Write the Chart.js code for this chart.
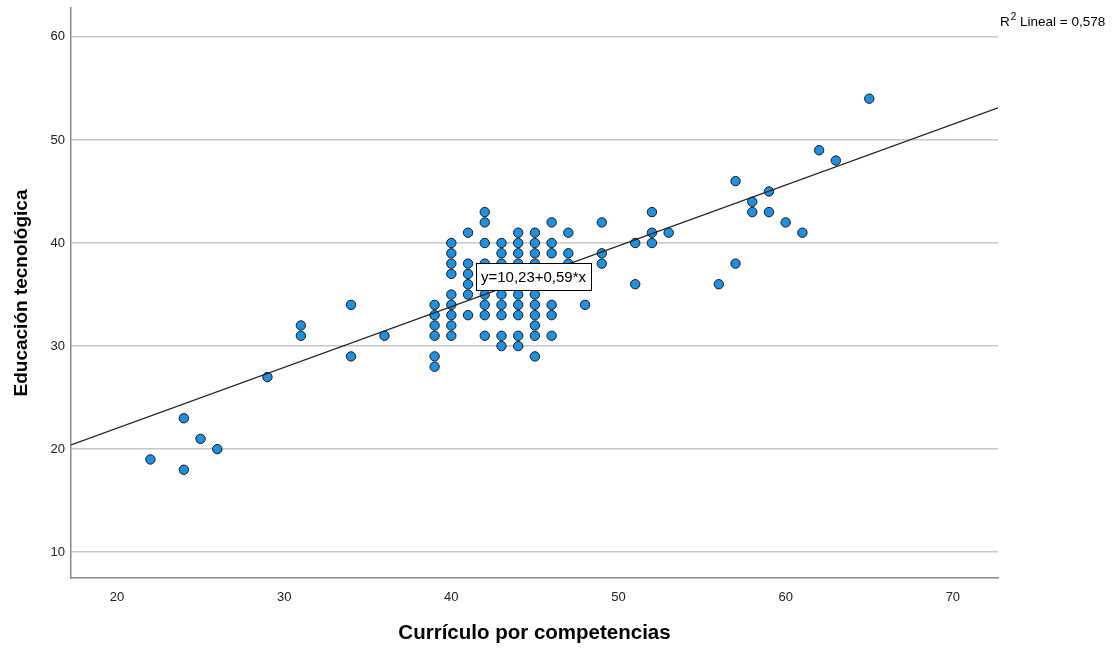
<!DOCTYPE html>
<html>
<head>
<meta charset="utf-8">
<script src="https://cdn.jsdelivr.net/npm/chart.js@4/dist/chart.umd.min.js"></script>
<style>
html, body { margin: 0; padding: 0; background: #fff; }
#wrap { width: 1119px; height: 653px; }
</style>
</head>
<body>
<div id="wrap"><canvas id="chart1"></canvas></div>
<script>
// Currículo por competencias (x) / Educación tecnológica (y), one pair per point
var curriculo = [
	22, 24, 24, 25, 26, 29, 31, 31, 34, 34, 36,
	39, 39, 39, 39, 39, 39,
	40, 40, 40, 40, 40, 40, 40, 40, 40,
	41, 41, 41, 41, 41, 41,
	42, 42, 42, 42, 42, 42, 42, 42, 42, 42,
	43, 43, 43, 43, 43, 43, 43, 43, 43, 43,
	44, 44, 44, 44, 44, 44, 44, 44, 44, 44, 44,
	45, 45, 45, 45, 45, 45, 45, 45, 45, 45, 45, 45,
	46, 46, 46, 46, 46, 46,
	47, 47, 47, 48, 49, 49, 49,
	51, 51, 52, 52, 52, 53, 56, 57, 57, 58, 58, 59, 59, 60, 61, 62, 63, 65
];
var educacion = [
	19, 18, 23, 21, 20, 27, 32, 31, 34, 29, 31,
	34, 33, 32, 31, 29, 28,
	40, 39, 38, 37, 35, 34, 33, 32, 31,
	41, 38, 37, 36, 35, 33,
	43, 42, 40, 38, 37, 36, 35, 34, 33, 31,
	40, 39, 38, 37, 36, 35, 34, 33, 31, 30,
	41, 40, 39, 38, 37, 36, 35, 34, 33, 31, 30,
	41, 40, 39, 38, 37, 36, 35, 34, 33, 32, 31, 29,
	42, 40, 39, 34, 33, 31,
	41, 39, 38, 34, 42, 39, 38,
	40, 36, 43, 41, 40, 41, 36, 46, 38, 44, 43, 45, 43, 42, 41, 49, 48, 54
];

// fit line ends
var fitX = [17.25, 72.7];
var fitY = [20.41, 53.12];

var xTicks = [20, 30, 40, 50, 60, 70];
var yTicks = [10, 20, 30, 40, 50, 60];

var fitLabel = 'y=10,23+0,59*x';
var fitLabelAt = {x: 44.94, y: 36.77};
var r2Text = ' Lineal = 0,578';

var fontFam = '"Liberation Sans", Arial, sans-serif';

var points = [];
for (var i = 0; i < curriculo.length; i++) {
	points.push({x: curriculo[i], y: educacion[i]});
}
var fitLine = [];
for (var j = 0; j < fitX.length; j++) {
	fitLine.push({x: fitX[j], y: fitY[j]});
}

var notes = {
	id: 'notes',
	afterDatasetsDraw: function(chart) {
		var ctx = chart.ctx;
		var xs = chart.scales.x, ys = chart.scales.y;
		ctx.save();

		// equation box
		ctx.font = '15px ' + fontFam;
		var w = Math.round(ctx.measureText(fitLabel).width + 10);
		var h = 27;
		var cx = xs.getPixelForValue(fitLabelAt.x);
		var cy = ys.getPixelForValue(fitLabelAt.y);
		var bx = Math.round(cx - w / 2), by = Math.round(cy - h / 2);
		ctx.fillStyle = '#ffffff';
		ctx.fillRect(bx, by, w, h);
		ctx.strokeStyle = '#000000';
		ctx.lineWidth = 1;
		ctx.strokeRect(bx + 0.5, by + 0.5, w, h);
		ctx.fillStyle = '#000000';
		ctx.textAlign = 'center';
		ctx.textBaseline = 'middle';
		ctx.fillText(fitLabel, bx + w / 2, by + h / 2 + 1);

		// R2 label, top right
		ctx.textAlign = 'left';
		ctx.textBaseline = 'alphabetic';
		ctx.font = '13.5px ' + fontFam;
		var x0 = 1000, base = 26;
		ctx.fillText('R', x0, base);
		x0 += ctx.measureText('R').width;
		ctx.font = '10px ' + fontFam;
		ctx.fillText('2', x0 + 1, base - 6);
		x0 += ctx.measureText('2').width + 1;
		ctx.font = '13.5px ' + fontFam;
		ctx.fillText(r2Text, x0, base);
		ctx.restore();
	}
};

function noPad(scale) {
	scale.paddingTop = 0;
	scale.paddingBottom = 0;
	scale.paddingLeft = 0;
	scale.paddingRight = 0;
}

var ctx = document.getElementById('chart1').getContext('2d');
var chart = new Chart(ctx, {
	type: 'scatter',
	data: {
		datasets: [{
			type: 'line',
			data: fitLine,
			order: 0,
			borderColor: '#222222',
			borderWidth: 1.2,
			pointRadius: 0,
			fill: false
		}, {
			data: points,
			order: 1,
			backgroundColor: '#1f8fe0',
			borderColor: '#1a1a1a',
			borderWidth: 1,
			pointRadius: 4.7
		}]
	},
	options: {
		responsive: true,
		maintainAspectRatio: false,
		devicePixelRatio: 1,
		animation: false,
		layout: {padding: {left: 0, top: 8, right: 121, bottom: 0}},
		plugins: {
			legend: {display: false},
			tooltip: {enabled: false}
		},
		scales: {
			x: {
				type: 'linear',
				min: 17.25,
				max: 72.7,
				afterBuildTicks: function(scale) {
					scale.ticks = xTicks.map(function(v) { return {value: v}; });
				},
				afterFit: function(scale) { scale.height = 75; noPad(scale); },
				grid: {display: false, drawTicks: false},
				border: {display: true, color: '#8a8a8a', width: 1.5},
				ticks: {
					padding: 12,
					color: '#222222',
					font: {family: fontFam, size: 13},
					maxRotation: 0
				},
				title: {
					display: true,
					text: 'Currículo por competencias',
					color: '#000000',
					font: {family: fontFam, size: 20.5, weight: 'bold'},
					padding: {top: 0, bottom: 7}
				}
			},
			y: {
				type: 'linear',
				min: 7.5,
				max: 62.8,
				afterBuildTicks: function(scale) {
					scale.ticks = yTicks.map(function(v) { return {value: v}; });
				},
				afterFit: function(scale) { scale.width = 71; noPad(scale); },
				grid: {color: '#c8c8c8', lineWidth: 1.5, drawTicks: false},
				border: {display: true, color: '#8a8a8a', width: 1.5},
				ticks: {
					padding: 6,
					color: '#222222',
					font: {family: fontFam, size: 13}
				},
				title: {
					display: true,
					text: 'Educación tecnológica',
					color: '#000000',
					font: {family: fontFam, size: 19, weight: 'bold'},
					padding: {top: 10, bottom: 0}
				}
			}
		}
	},
	plugins: [notes]
});
</script>
</body>
</html>
